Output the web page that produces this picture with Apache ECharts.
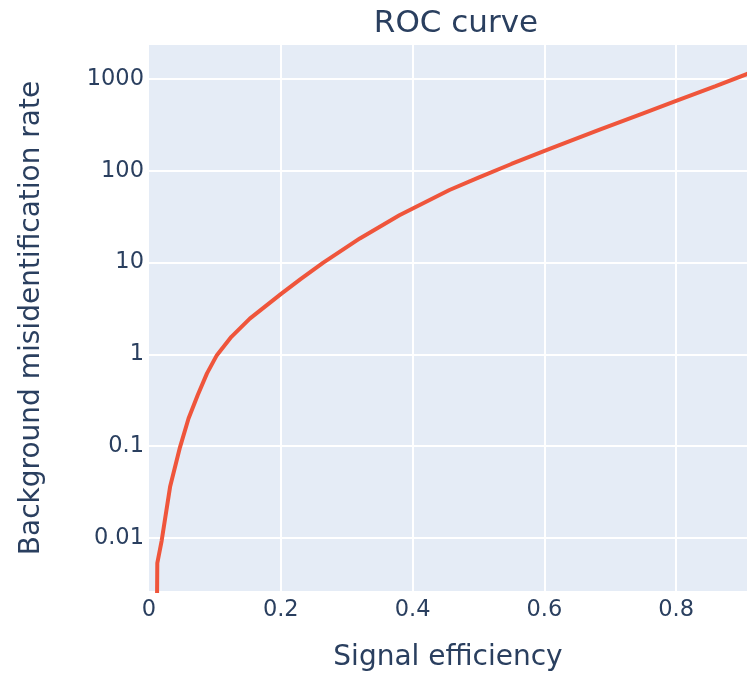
<!DOCTYPE html>
<html>
<head>
<meta charset="utf-8">
<script src="https://cdn.jsdelivr.net/npm/echarts@6/dist/echarts.min.js"></script>
<style>
  html, body { margin: 0; padding: 0; background: #fff; }
  #main { width: 747px; height: 682px; }
</style>
</head>
<body>
<div id="main"></div>
<script>
// signal efficiency vs background misidentification rate
const signalEff = [0.012, 0.0126, 0.0192, 0.032, 0.047, 0.06, 0.074, 0.088, 0.103, 0.125, 0.153, 0.2, 0.23, 0.264, 0.32, 0.38, 0.456, 0.5, 0.55, 0.608, 0.683, 0.75, 0.80, 0.86, 0.907, 0.93];
const bkgRate   = [0.0015, 0.0053, 0.0093, 0.036, 0.097, 0.2, 0.36, 0.62, 0.98, 1.55, 2.45, 4.52, 6.6, 9.9, 18.3, 32.7, 61.7, 84, 118.5, 173, 279, 423, 577, 837, 1128, 1303];
const xTicks = [0, 0.2, 0.4, 0.6, 0.8];
const yTicks = [0.01, 0.1, 1, 10, 100, 1000];

const textColor = '#2a3f5f';
const font = '"DejaVu Sans", Verdana, sans-serif';

const chart = echarts.init(document.getElementById('main'));

const option = {
  animation: false,
  title: {
    text: 'ROC curve',
    left: 451,
    top: 3,
    textAlign: 'center',
    textStyle: { color: textColor, fontFamily: font, fontSize: 31, fontWeight: 'normal' }
  },
  grid: {
    left: 149,
    right: 0,
    top: 45,
    bottom: 91,
    show: true,
    backgroundColor: '#E5ECF6',
    borderWidth: 0
  },
  xAxis: {
    type: 'value',
    min: 0,
    max: 0.9076,
    interval: 0.2,
    name: 'Signal efficiency',
    nameLocation: 'middle',
    nameGap: 53,
    nameTextStyle: { color: textColor, fontFamily: font, fontSize: 28 },
    axisLine: { show: false },
    axisTick: { show: false },
    axisLabel: {
      color: textColor, fontFamily: font, fontSize: 22.5, margin: 8,
      showMaxLabel: false,
      formatter: v => xTicks.includes(Math.round(v * 10) / 10) ? String(Math.round(v * 10) / 10) : ''
    },
    splitLine: { show: true, showMinLine: false, showMaxLine: false, lineStyle: { color: '#fff', width: 2 } }
  },
  yAxis: {
    type: 'log',
    logBase: 10,
    min: 0.00264,
    max: 2344,
    name: 'Background misidentification rate',
    nameLocation: 'middle',
    nameGap: 103,
    nameTextStyle: { color: textColor, fontFamily: font, fontSize: 28 },
    axisLine: { show: false },
    axisTick: { show: false },
    axisLabel: {
      color: textColor, fontFamily: font, fontSize: 22.5, margin: 5,
      showMinLabel: false,
      showMaxLabel: false,
      formatter: v => {
        const hit = yTicks.find(t => Math.abs(Math.log10(v) - Math.log10(t)) < 1e-6);
        return hit === undefined ? '' : String(hit);
      }
    },
    splitLine: { show: true, showMinLine: false, showMaxLine: false, lineStyle: { color: '#fff', width: 2 } }
  },
  series: [{
    type: 'line',
    data: signalEff.map((x, i) => [x, bkgRate[i]]),
    showSymbol: false,
    clip: true,
    lineStyle: { color: '#EF553B', width: 4 },
    itemStyle: { color: '#EF553B' }
  }]
};

chart.setOption(option);
window.addEventListener('resize', () => chart.resize());
</script>
</body>
</html>
